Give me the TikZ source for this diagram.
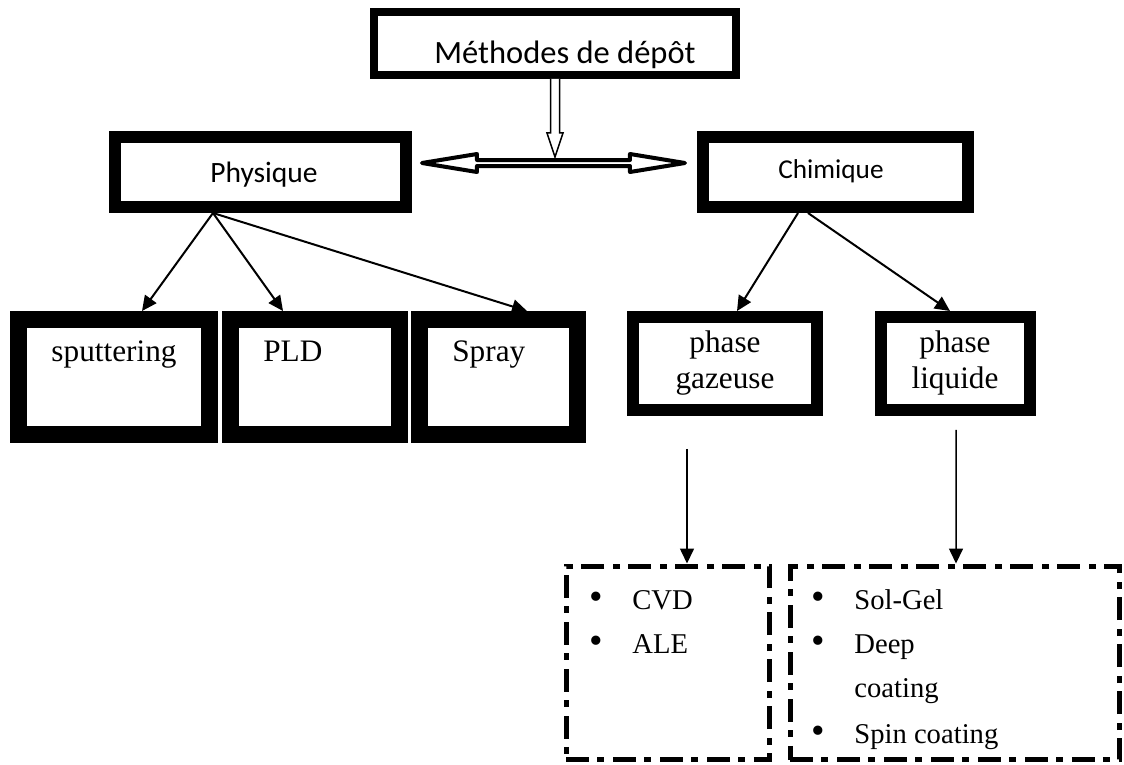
\documentclass[tikz,border=0pt]{standalone}
\usepackage{fontspec}
\setmainfont{Liberation Serif}
\newfontfamily\calibri{Carlito}
\usetikzlibrary{arrows.meta,calc}

\begin{document}
\begin{tikzpicture}[x=0.02cm,y=-0.02cm]
        \def\serif{\fontsize{17.8}{21}\selectfont}
        \def\listfont{\fontsize{16.3}{20}\selectfont}
        \def\bul{\makebox[0.86cm][l]{\fontsize{22}{22}\selectfont\textbullet}}

        \tikzset{
           box/.style={draw, line width=0.24cm, inner sep=0pt, minimum height=1.4cm},
           heavybox/.style={draw, line width=0.34cm, inner sep=0pt, minimum height=2.3cm},
           dashbox/.style={draw, line width=0.1cm, inner sep=0pt, minimum height=3.88cm,
              dash pattern=on 0.46cm off 0.16cm on 0.14cm off 0.18cm},
           txt/.style={anchor=base, inner sep=0pt, font=\serif},
           item/.style={anchor=base west, inner sep=0pt, font=\listfont},
           link/.style={line width=0.04cm, -{Triangle[length=0.3cm,width=0.28cm]}}
        }

        \useasboundingbox (0,0) rectangle (1124,764);

        % Title
        \node[draw, line width=0.16cm, inner sep=0pt, minimum width=7.24cm, minimum height=1.26cm] (meth) at (555,43.5) {};
        \node[txt, font={\calibri\fontsize{18.5}{22}\selectfont}] (methlbl) at (565,63) {Méthodes de dépôt};

        % Physique / Chimique
        \node[box, minimum width=5.82cm] (phys) at (260.5,172) {};
        \node[txt, font={\calibri\fontsize{16.8}{20}\selectfont}] (physlbl) at (264,182) {Physique};
        \node[box, minimum width=5.3cm] (chim) at (835.5,172) {};
        \node[txt, font={\calibri\fontsize{15.5}{19}\selectfont}] (chimlbl) at (831,178) {Chimique};

        % Physical methods
        \node[heavybox, minimum width=3.82cm] (sput) at (114,377) {};
        \node[heavybox, minimum width=3.38cm] (pld) at (315,377) {};
        \node[heavybox, minimum width=3.16cm] (spray) at (498.5,377) {};
        \node[txt] (sputlbl) at (114,361) {sputtering};
        \node[txt, anchor=base west] (pldlbl) at (263,361) {PLD};
        \node[txt, anchor=base west] (spraylbl) at (452,361) {Spray};

        % Chemical phases
        \node[box, minimum width=3.68cm, minimum height=1.86cm] (gaz) at (725,363.5) {};
        \node[box, minimum width=2.98cm, minimum height=1.86cm] (liq) at (955.5,363.5) {};
        \node[txt] (gazlbla) at (725,352) {phase};
        \node[txt] (gazlblb) at (725,388) {gazeuse};
        \node[txt] (liqlbla) at (955,352) {phase};
        \node[txt] (liqlblb) at (955,388) {liquide};

        % Lists
        \node[dashbox, minimum width=4.08cm] (dashL) at (668,663) {};
        \node[dashbox, minimum width=6.6cm] (dashR) at (955,663) {};
        \node[item] (cvd) at (589,609) {\bul CVD};
        \node[item] (ale) at (589,653) {\bul ALE};
        \node[item] (solgel) at (811,609) {\bul Sol-Gel};
        \node[item] (deep) at (811,653) {\bul Deep};
        \node[item] (coat) at (854,697) {coating};
        \node[item] (spin) at (811,743) {\bul Spin coating};

        % Hollow arrows
        \draw[line width=0.03cm, fill=white] (meth.south) ++(-4.5,0) -- ++(0,54) -- ++(-3.5,0)
             -- ++(8,24) -- ++(8,-24) -- ++(-3.5,0) -- ++(0,-54);
        \draw[line width=0.08cm, line join=round, fill=white] ($(phys.east)+(10,-9)$)
             -- ++(55,-9) -- ++(0,6) -- ++(153,0) -- ++(0,-6) -- ++(55,9)
             -- ++(-55,9) -- ++(0,-6) -- ++(-153,0) -- ++(0,6) -- cycle;

        % Lines
        \draw[link] ($(phys.south)+(-47.5,0)$) -- ($(sput.north)+(28,0)$);
        \draw[link] ($(phys.south)+(-47.5,0)$) -- ($(pld.north)+(-32,0)$);
        \draw[link] ($(phys.south)+(-47.5,0)$) -- ($(spray.north)+(28.5,0)$);
        \draw[link] ($(chim.south)+(-37.5,0)$) -- ($(gaz.north)+(12,0)$);
        \draw[link] ($(chim.south)+(-27.5,0)$) -- ($(liq.north)+(-5.5,0)$);
        \draw[link, line width=0.03cm] ($(gaz.south)+(-38,33)$) -- ($(dashL.north)+(19,0)$);
        \draw[link, line width=0.03cm] ($(liq.south)+(0.5,14)$) -- ($(dashR.north)+(1,0)$);
    \end{tikzpicture}
\end{document}
